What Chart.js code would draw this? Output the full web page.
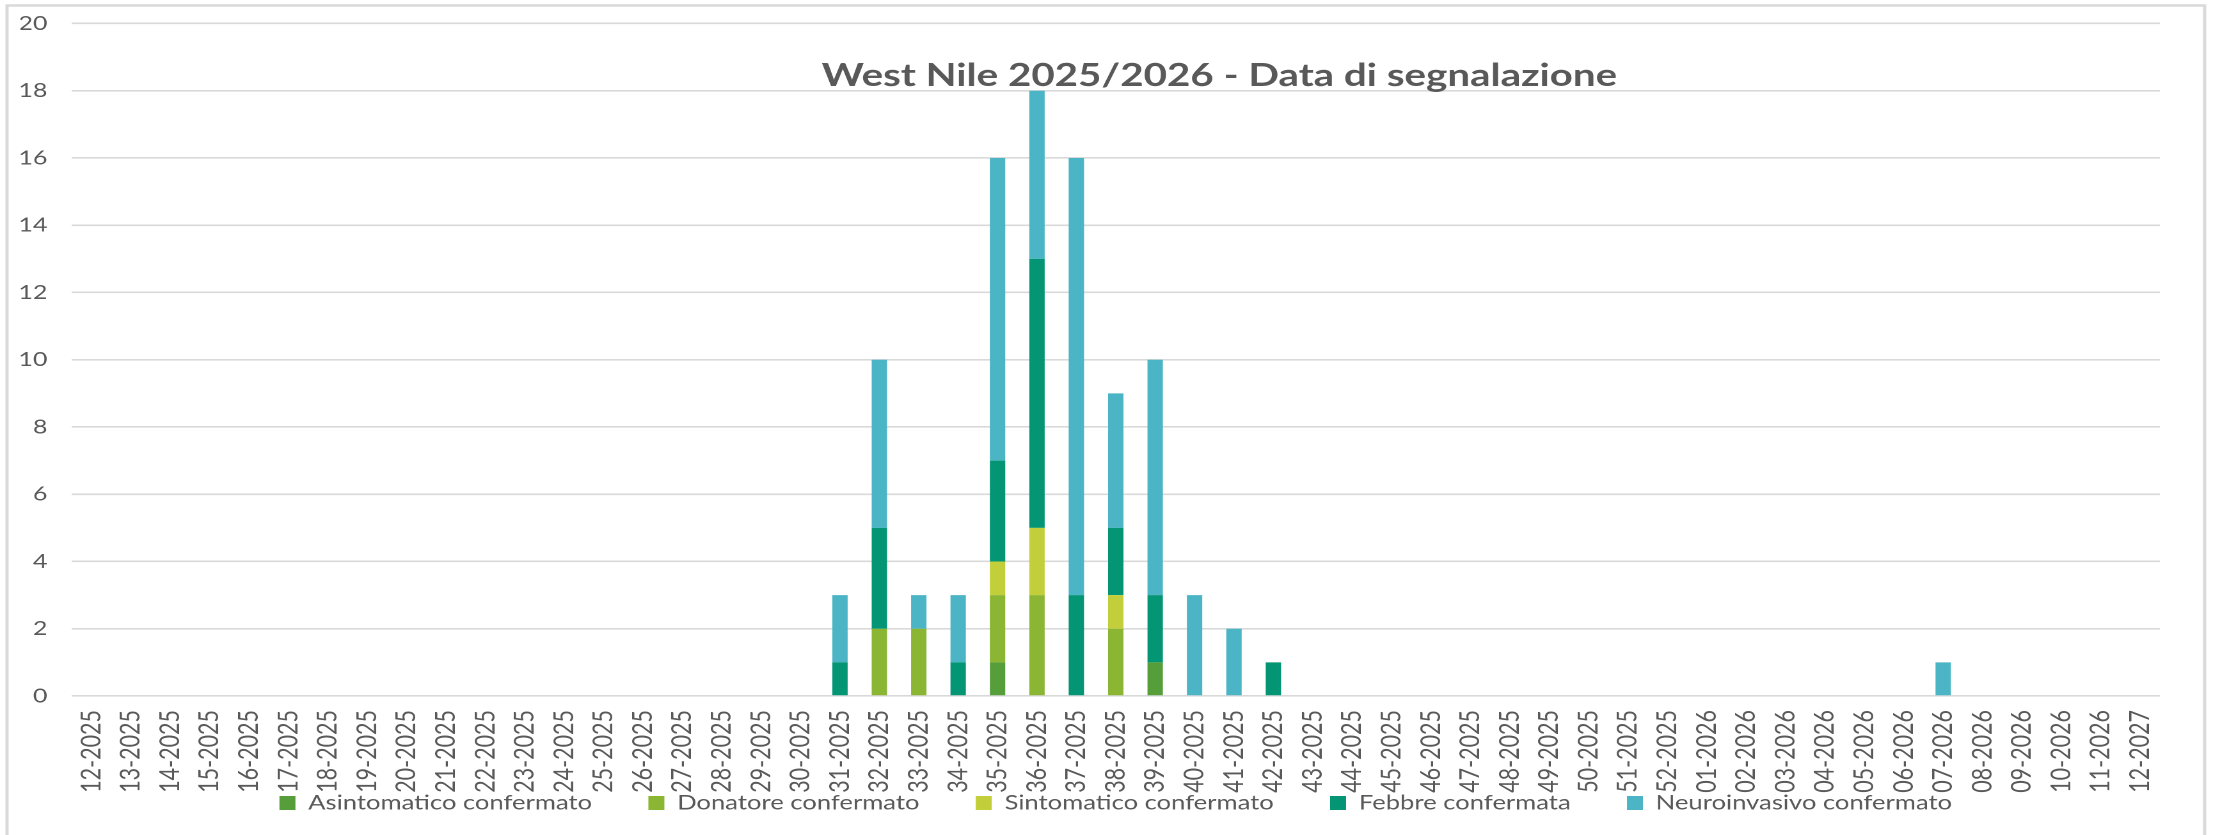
<!DOCTYPE html>
<html>
<head>
<meta charset="utf-8">
<script src="https://cdn.jsdelivr.net/npm/chart.js@4"></script>
<style>
html,body{margin:0;padding:0;background:#fff;overflow:hidden;}
#wrap{width:2220px;height:835px;position:relative;overflow:hidden;}
#c{position:absolute;left:0;top:0;transform-origin:0 0;transform:scaleX(1.27954);}
</style>
</head>
<body>
<div id="wrap"><canvas id="c" width="1735" height="835" style="width:1735px;height:835px"></canvas></div>
<script>
const chartTitle = "West Nile 2025/2026 - Data di segnalazione";

const weeks = [
  "12-2025","13-2025","14-2025","15-2025","16-2025","17-2025","18-2025","19-2025","20-2025","21-2025",
  "22-2025","23-2025","24-2025","25-2025","26-2025","27-2025","28-2025","29-2025","30-2025","31-2025",
  "32-2025","33-2025","34-2025","35-2025","36-2025","37-2025","38-2025","39-2025","40-2025","41-2025",
  "42-2025","43-2025","44-2025","45-2025","46-2025","47-2025","48-2025","49-2025","50-2025","51-2025",
  "52-2025","01-2026","02-2026","03-2026","04-2026","05-2026","06-2026","07-2026","08-2026","09-2026",
  "10-2026","11-2026","12-2027"
];

const seriesNames = ["Asintomatico confermato","Donatore confermato","Sintomatico confermato","Febbre confermata","Neuroinvasivo confermato"];
const seriesColors = ["#559E3A","#8BB634","#C3CF3A","#039574","#4BB5C5"];

const asintomatico = [
  0,0,0,0,0,0,0,0,0,0, 0,0,0,0,0,0,0,0,0,0,
  0,0,0,1,0,0,0,1,0,0, 0,0,0,0,0,0,0,0,0,0,
  0,0,0,0,0,0,0,0,0,0, 0,0,0
];
const donatore = [
  0,0,0,0,0,0,0,0,0,0, 0,0,0,0,0,0,0,0,0,0,
  2,2,0,2,3,0,2,0,0,0, 0,0,0,0,0,0,0,0,0,0,
  0,0,0,0,0,0,0,0,0,0, 0,0,0
];
const sintomatico = [
  0,0,0,0,0,0,0,0,0,0, 0,0,0,0,0,0,0,0,0,0,
  0,0,0,1,2,0,1,0,0,0, 0,0,0,0,0,0,0,0,0,0,
  0,0,0,0,0,0,0,0,0,0, 0,0,0
];
const febbre = [
  0,0,0,0,0,0,0,0,0,0, 0,0,0,0,0,0,0,0,0,1,
  3,0,1,3,8,3,2,2,0,0, 1,0,0,0,0,0,0,0,0,0,
  0,0,0,0,0,0,0,0,0,0, 0,0,0
];
const neuroinvasivo = [
  0,0,0,0,0,0,0,0,0,0, 0,0,0,0,0,0,0,0,0,2,
  5,1,2,9,5,13,4,7,3,2, 0,0,0,0,0,0,0,0,0,0,
  0,0,0,0,0,0,0,1,0,0, 0,0,0
];

const yTicks = [0,2,4,6,8,10,12,14,16,18,20];

const seriesData = [asintomatico, donatore, sintomatico, febbre, neuroinvasivo];

const frame = {
  id: 'frame',
  beforeDraw(chart) {
    const ctx = chart.ctx;
    ctx.save();
    ctx.strokeStyle = '#d9d9d9';
    ctx.lineWidth = 2.5;
    ctx.strokeRect(5.5, 5.5, 1717.5, 900);
    ctx.restore();
    // let the rotated week labels run below the (short) axis box
    if (chart.scales.x) chart.scales.x._computeLabelArea = function () { return undefined; };
  }
};

const titleText = {
  id: 'titleText',
  afterDraw(chart) {
    const ctx = chart.ctx;
    ctx.save();
    ctx.font = 'bold 31.5px Lato';
    ctx.fillStyle = '#595959';
    ctx.textAlign = 'center';
    ctx.textBaseline = 'alphabetic';
    ctx.fillText(chartTitle, 953, 86);
    ctx.restore();
  }
};

new Chart(document.getElementById('c'), {
  type: 'bar',
  data: {
    labels: weeks,
    datasets: seriesNames.map((n, i) => ({
      label: n,
      data: seriesData[i],
      backgroundColor: seriesColors[i],
      borderWidth: 0,
      categoryPercentage: 1,
      barPercentage: 0.39
    }))
  },
  options: {
    responsive: false,
    devicePixelRatio: 2,
    animation: false,
    layout: { padding: { left: 16, right: 47, top: 23.5, bottom: 12 } },
    plugins: {
      title: { display: false },
      tooltip: { enabled: false },
      legend: {
        position: 'bottom',
        fullSize: false,
        labels: {
          font: { family: 'Lato', size: 20 },
          color: '#595959',
          boxWidth: 12.5,
          boxHeight: 14,
          padding: 44
        }
      }
    },
    scales: {
      x: {
        stacked: true,
        grid: { display: false, drawTicks: false },
        border: { display: false },
        ticks: {
          autoSkip: false,
          minRotation: 90,
          maxRotation: 90,
          padding: 14,
          color: '#595959',
          font: { family: 'Lato', size: 21.5 }
        },
        afterFit(s) { s.height = 53; }
      },
      y: {
        stacked: true,
        min: 0,
        max: 20,
        afterBuildTicks(s) { s.ticks = yTicks.map(v => ({ value: v })); },
        grid: { color: '#d9d9d9', lineWidth: 1.6, drawTicks: false },
        border: { display: false },
        ticks: {
          padding: 19,
          color: '#595959',
          font: { family: 'Lato', size: 19.5 }
        },
        afterFit(s) { s.width = 40; s.paddingTop = 0; s.paddingBottom = 0; }
      }
    }
  },
  plugins: [frame, titleText]
});
</script>
</body>
</html>
